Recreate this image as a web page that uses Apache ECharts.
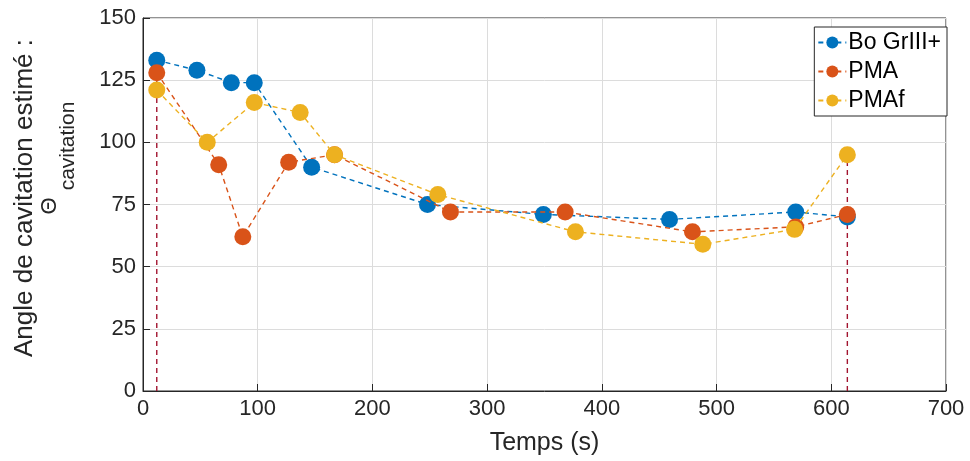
<!DOCTYPE html>
<html><head><meta charset="utf-8">
<script src="https://cdn.jsdelivr.net/npm/echarts@6/dist/echarts.min.js"></script>
<style>html,body{margin:0;padding:0;background:#fff}#c{width:970px;height:461px}</style>
</head><body><div id="c"></div>
<script>
const seriesNames = ['Bo GrIII+', 'PMA', 'PMAf'];
const boX = [12, 47, 77, 97, 147, 248, 349, 459, 569, 614];
const boY = [133, 129, 124, 124, 90, 75, 71, 69, 72, 70];
const pmaX = [12, 66, 87, 127, 167, 268, 368, 479, 569, 614];
const pmaY = [128, 91, 62, 92, 95, 72, 72, 64, 66, 71];
const pmafX = [12, 56, 97, 137, 167, 257, 377, 488, 568, 614];
const pmafY = [121, 100, 116, 112, 95, 79, 64, 59, 65, 95];
const markerX = [12, 614];
const markerTop = [133, 95];
const xTicks = [0, 100, 200, 300, 400, 500, 600, 700];
const yTicks = [0, 25, 50, 75, 100, 125, 150];
const yTitle = 'Angle de cavitation estimé :';
const yTitleSym = 'Θ';
const yTitleSub = 'cavitation';
const colors = ['#0072BD', '#D95319', '#EDB120'];
const font = 'Liberation Sans';

function pts(xs, ys){ return xs.map((x,i)=>[x, ys[i]]); }

const chart = echarts.init(document.getElementById('c'));
const mainSeries = [[boX,boY],[pmaX,pmaY],[pmafX,pmafY]].map((d,i)=>({
  name: seriesNames[i], type:'line', data: pts(d[0], d[1]),
  symbol:'circle', symbolSize:17, z: 3+i,
  lineStyle:{color:colors[i], width:1.4, type:[5,4]},
  itemStyle:{color:colors[i]}
}));
const vSeries = markerX.map((x,i)=>({
  name:'v'+i, type:'line', data:[[x,0],[x,markerTop[i]]], symbol:'none', z:2,
  lineStyle:{color:'#A2142F', width:1.4, type:[5,4]}, silent:true
}));
function vText(text, x, y, size){
  return {type:'text', x:x, y:y, rotation:Math.PI/2, silent:true,
    style:{text:text, fontFamily:font, fontSize:size, fill:'#262626', align:'center', verticalAlign:'middle'}};
}
chart.setOption({
  animation:false,
  grid:{left:143, right:24, top:18, bottom:69, show:true, borderColor:'#262626', borderWidth:1},
  legend:{data:seriesNames, orient:'vertical', right:23, top:27, backgroundColor:'#fff',
    borderColor:'#262626', borderWidth:1, padding:[4,6,4,3], itemGap:6, itemWidth:28, itemHeight:15,
    textStyle:{fontFamily:font, fontSize:23, color:'#000', padding:[0,0,0,-3]}},
  graphic:[
    vText(yTitle, 25, 198, 26),
    vText(yTitleSym, 50, 206, 22),
    vText(yTitleSub, 68, 146, 21)
  ],
  xAxis:{type:'value', min:0, max:700, interval:100,
    name:'Temps (s)', nameLocation:'middle', nameGap:40,
    nameTextStyle:{fontFamily:font, fontSize:25, color:'#262626'},
    axisLine:{show:true, lineStyle:{color:'#262626'}},
    axisTick:{show:true, inside:true, length:7, lineStyle:{color:'#262626'}},
    axisLabel:{fontFamily:font, fontSize:22, color:'#262626', margin:7},
    splitLine:{show:true, lineStyle:{color:'#dcdcdc'}}},
  yAxis:{type:'value', min:0, max:150, interval:25,
    axisLine:{show:true, lineStyle:{color:'#262626'}},
    axisTick:{show:true, inside:true, length:7, lineStyle:{color:'#262626'}},
    axisLabel:{fontFamily:font, fontSize:22, color:'#262626', margin:7},
    splitLine:{show:true, lineStyle:{color:'#dcdcdc'}}},
  series: vSeries.concat(mainSeries)
});
</script></body></html>
